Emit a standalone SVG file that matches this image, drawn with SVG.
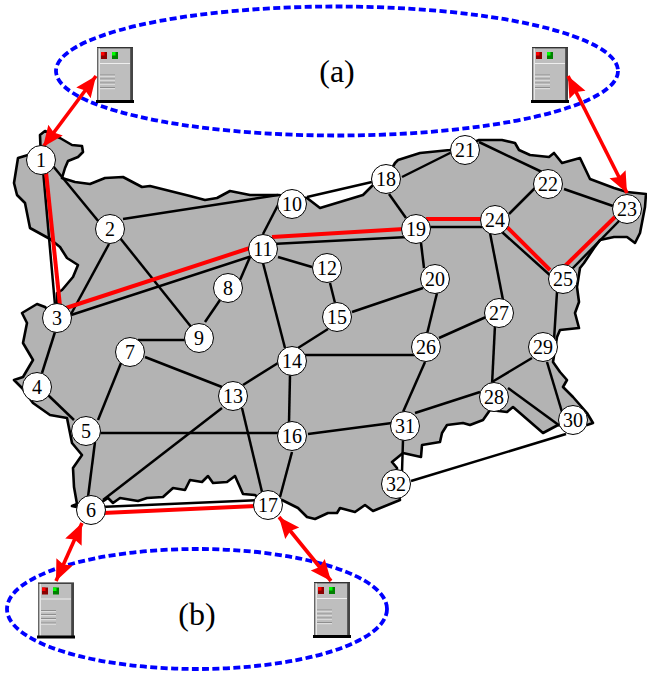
<svg xmlns="http://www.w3.org/2000/svg" xmlns:xlink="http://www.w3.org/1999/xlink" width="647" height="678" viewBox="0 0 647 678">
<style>
.map{fill:#b3b3b3;stroke:#000;stroke-width:2.6;stroke-linejoin:round}
.ring{fill:none;stroke:#00f;stroke-width:3.8;stroke-dasharray:7 3.4}
.k line{stroke:#000;stroke-width:2.5}
.r line{stroke:#f00;stroke-width:4}
.a line{stroke:#f00;stroke-width:3.6;marker-start:url(#ah);marker-end:url(#ah)}
.n circle{fill:#fff;stroke:#000;stroke-width:1}
text{font-family:"Liberation Serif","Times New Roman",serif;fill:#000;text-anchor:middle}
.n text{font-size:20px}
.big{font-size:32px}
</style>
<defs>
<marker id="ah" markerUnits="userSpaceOnUse" markerWidth="24" markerHeight="20" refX="21" refY="9" orient="auto-start-reverse"><path d="M0 0L21 9L0 18L3 9Z" fill="#f00"/></marker>
<g id="srv">
<rect x="0" y="0" width="36" height="54" fill="#bebebe"/>
<rect x="0" y="0" width="36" height="1.4" fill="#333"/>
<rect x="0" y="1.4" width="1.6" height="52" fill="#666"/>
<rect x="1.6" y="1.4" width="1.2" height="52" fill="#f2f2f2"/>
<rect x="33.2" y="1" width="2.8" height="53" fill="#444"/>
<rect x="-1" y="53" width="38" height="3" fill="#000"/>
<rect x="4" y="5" width="6" height="7" fill="#8b0000"/><rect x="4" y="5" width="3.5" height="3.5" fill="#f00"/>
<rect x="15" y="5" width="6" height="7" fill="#008000"/><rect x="15" y="5" width="3.5" height="3.5" fill="#0f0"/>
<rect x="3" y="16" width="30" height="1" fill="#eee"/>
<path d="M3 28H18M3 32H18M3 36H18M3 40.5H18" stroke="#8e8e8e" stroke-width="1.2" fill="none"/>
<path d="M3 29.2H18M3 33.2H18M3 37.2H18M3 41.7H18" stroke="#e4e4e4" stroke-width="1" fill="none"/>
</g>
</defs>
<path id="map" class="map" d="M40 135L45 131L60 138L72 145L82 146L83 152L78 157L68 161L65 168L62 178L75 182L90 184L105 178L123 177L142 187L150 186L170 191L190 196L205 200L217 198L230 191L250 195L278 195L292 196L307 198L320 208L363 195L373 185L386 179L395 163L398 160L420 153L430 152L450 150L465 146L479 140L502 140L515 143L519 150L530 155L549 157L554 153L562 163L580 158L590 179L614 188L627 192L646 194L645 207L640 233L635 243L627 237L614 237L600 240L594 248L584 263L580 268L577 287L579 302L575 313L579 328L560 330L557 337L553 362L560 372L567 380L563 387L573 397L587 413L593 423L587 425L572 421L558 425L543 433L513 407L507 412L490 410L483 420L470 425L463 423L447 425L442 433L440 442L422 445L421 457L403 453L392 462L397 468L396 484L400 500L373 511L365 505L355 512L340 508L337 513L328 513L315 519L307 517L298 508L282 500L268 505L255 495L243 494L235 476L227 482L213 483L208 476L202 482L190 480L185 490L173 488L163 497L147 498L138 501L120 498L113 503L108 498L90 510L72 506L77 504L74 487L73 468L82 455L72 443L67 418L50 415L33 403L22 388L14 380L23 377L33 360L23 343L27 323L22 313L37 304L45 307L57 318L57 293L62 290L73 277L78 265L67 258L60 247L50 239L30 228L25 203L17 195L14 183L18 158L28 155L41 160Z"/>
<ellipse class="ring" cx="337" cy="71" rx="281" ry="64.5"/>
<ellipse class="ring" cx="197" cy="609" rx="190" ry="60"/>
<g id="servers">
<use id="server-a1" xlink:href="#srv" x="97" y="47"/>
<use id="server-a2" xlink:href="#srv" x="532" y="47"/>
<use id="server-b1" xlink:href="#srv" x="38" y="582.5"/>
<use id="server-b2" xlink:href="#srv" x="314" y="582"/>
</g>
<g id="connectors">
<g class="k">
<line x1="53" y1="166" x2="99" y2="222"/>
<line x1="43" y1="170" x2="55" y2="305"/>
<line x1="123" y1="219" x2="278" y2="195"/>
<line x1="109" y1="244" x2="70" y2="316"/>
<line x1="120" y1="238" x2="192" y2="328"/>
<line x1="55" y1="332" x2="42" y2="373"/>
<line x1="68" y1="316" x2="255" y2="255"/>
<line x1="48" y1="395" x2="74" y2="420"/>
<line x1="95" y1="442" x2="88" y2="497"/>
<line x1="98" y1="420" x2="121" y2="363"/>
<line x1="100" y1="433" x2="278" y2="433"/>
<line x1="103" y1="500" x2="222" y2="408"/>
<line x1="100" y1="507" x2="260" y2="500"/>
<line x1="138" y1="340" x2="188" y2="340"/>
<line x1="145" y1="357" x2="222" y2="387"/>
<line x1="220" y1="300" x2="205" y2="322"/>
<line x1="240" y1="280" x2="250" y2="257"/>
<line x1="278" y1="205" x2="263" y2="234"/>
<line x1="307" y1="197" x2="372" y2="182"/>
<line x1="278" y1="257" x2="312" y2="267"/>
<line x1="263" y1="263" x2="285" y2="348"/>
<line x1="272" y1="244" x2="408" y2="237"/>
<line x1="330" y1="283" x2="335" y2="303"/>
<line x1="243" y1="385" x2="278" y2="363"/>
<line x1="242" y1="408" x2="262" y2="492"/>
<line x1="298" y1="348" x2="328" y2="329"/>
<line x1="290" y1="375" x2="289" y2="423"/>
<line x1="305" y1="355" x2="414" y2="355"/>
<line x1="352" y1="312" x2="423" y2="288"/>
<line x1="292" y1="452" x2="280" y2="497"/>
<line x1="308" y1="434" x2="392" y2="423"/>
<line x1="389" y1="194" x2="406" y2="218"/>
<line x1="402" y1="177" x2="452" y2="152"/>
<line x1="421" y1="243" x2="424" y2="268"/>
<line x1="425" y1="227" x2="485" y2="227"/>
<line x1="437" y1="293" x2="427" y2="334"/>
<line x1="479" y1="142" x2="542" y2="172"/>
<line x1="564" y1="189" x2="613" y2="206"/>
<line x1="535" y1="188" x2="509" y2="214"/>
<line x1="620" y1="220" x2="572" y2="269"/>
<line x1="502" y1="232" x2="552" y2="277"/>
<line x1="490" y1="233" x2="503" y2="300"/>
<line x1="557" y1="292" x2="554" y2="340"/>
<line x1="439" y1="338" x2="486" y2="317"/>
<line x1="425" y1="362" x2="403" y2="412"/>
<line x1="495" y1="325" x2="492" y2="385"/>
<line x1="492" y1="382" x2="532" y2="358"/>
<line x1="508" y1="388" x2="560" y2="426"/>
<line x1="415" y1="413" x2="480" y2="392"/>
<line x1="547" y1="362" x2="562" y2="412"/>
<line x1="411" y1="481" x2="566" y2="434"/>
<line x1="403" y1="440" x2="402" y2="472"/>
</g>
<g class="r">
<line x1="46" y1="172" x2="60" y2="306"/><line x1="66" y1="308" x2="250" y2="248"/><line x1="272" y1="237" x2="404" y2="229"/><line x1="426" y1="219" x2="481" y2="219"/><line x1="506" y1="226" x2="550" y2="270"/><line x1="565" y1="266" x2="615" y2="217"/><line x1="103" y1="513" x2="256" y2="506"/>
</g>
<g class="a">
<line x1="43" y1="147" x2="96" y2="76"/><line x1="568" y1="76" x2="627" y2="193"/><line x1="82" y1="523" x2="56" y2="581"/><line x1="279" y1="517" x2="331" y2="581"/>
</g>
</g>
<g id="nodes">
<g id="n1" class="n"><circle cx="41" cy="160" r="14.5"/><text x="41" y="167">1</text></g>
<g id="n2" class="n"><circle cx="110" cy="229" r="14.5"/><text x="110" y="236">2</text></g>
<g id="n3" class="n"><circle cx="57" cy="318" r="14.5"/><text x="57" y="325">3</text></g>
<g id="n4" class="n"><circle cx="37" cy="387" r="14.5"/><text x="37" y="394">4</text></g>
<g id="n5" class="n"><circle cx="86" cy="431" r="14.5"/><text x="86" y="438">5</text></g>
<g id="n6" class="n"><circle cx="91" cy="510" r="14.5"/><text x="91" y="517">6</text></g>
<g id="n7" class="n"><circle cx="130" cy="352" r="14.5"/><text x="130" y="359">7</text></g>
<g id="n8" class="n"><circle cx="228" cy="288" r="14.5"/><text x="228" y="295">8</text></g>
<g id="n9" class="n"><circle cx="199" cy="338" r="14.5"/><text x="199" y="345">9</text></g>
<g id="n10" class="n"><circle cx="292" cy="204" r="14.5"/><text x="292" y="211">10</text></g>
<g id="n11" class="n"><circle cx="263" cy="249" r="14.5"/><text x="263" y="256">11</text></g>
<g id="n12" class="n"><circle cx="327" cy="268" r="14.5"/><text x="327" y="275">12</text></g>
<g id="n13" class="n"><circle cx="233" cy="396" r="14.5"/><text x="233" y="403">13</text></g>
<g id="n14" class="n"><circle cx="292" cy="361" r="14.5"/><text x="292" y="368">14</text></g>
<g id="n15" class="n"><circle cx="337" cy="317" r="14.5"/><text x="337" y="324">15</text></g>
<g id="n16" class="n"><circle cx="292" cy="436" r="14.5"/><text x="292" y="443">16</text></g>
<g id="n17" class="n"><circle cx="268" cy="505" r="14.5"/><text x="268" y="512">17</text></g>
<g id="n18" class="n"><circle cx="386" cy="179" r="14.5"/><text x="386" y="186">18</text></g>
<g id="n19" class="n"><circle cx="416" cy="229" r="14.5"/><text x="416" y="236">19</text></g>
<g id="n20" class="n"><circle cx="435" cy="279" r="14.5"/><text x="435" y="286">20</text></g>
<g id="n21" class="n"><circle cx="465" cy="150" r="14.5"/><text x="465" y="157">21</text></g>
<g id="n22" class="n"><circle cx="548" cy="184" r="14.5"/><text x="548" y="191">22</text></g>
<g id="n23" class="n"><circle cx="627" cy="209" r="14.5"/><text x="627" y="216">23</text></g>
<g id="n24" class="n"><circle cx="495" cy="220" r="14.5"/><text x="495" y="227">24</text></g>
<g id="n25" class="n"><circle cx="563" cy="279" r="14.5"/><text x="563" y="286">25</text></g>
<g id="n26" class="n"><circle cx="426" cy="347" r="14.5"/><text x="426" y="354">26</text></g>
<g id="n27" class="n"><circle cx="499" cy="313" r="14.5"/><text x="499" y="320">27</text></g>
<g id="n28" class="n"><circle cx="494" cy="397" r="14.5"/><text x="494" y="404">28</text></g>
<g id="n29" class="n"><circle cx="543" cy="347" r="14.5"/><text x="543" y="354">29</text></g>
<g id="n30" class="n"><circle cx="573" cy="420" r="14.5"/><text x="573" y="427">30</text></g>
<g id="n31" class="n"><circle cx="405" cy="426" r="14.5"/><text x="405" y="433">31</text></g>
<g id="n32" class="n"><circle cx="396" cy="484" r="14.5"/><text x="396" y="491">32</text></g>
</g>
<text class="big" x="337" y="82">(a)</text>
<text class="big" x="197" y="625">(b)</text>
</svg>
